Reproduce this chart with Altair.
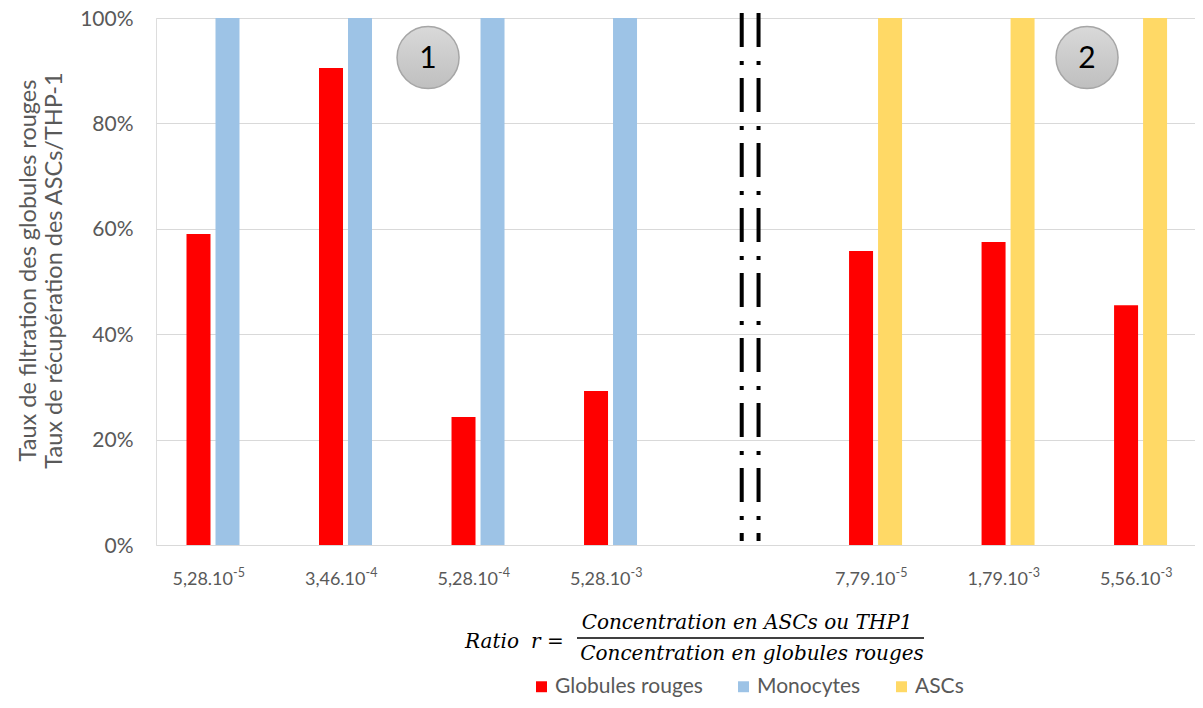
import altair as alt
import pandas as pd

# ---------------- data ----------------
categories = ["5,28.10", "3,46.10", "5,28.10", "5,28.10", "", "7,79.10", "1,79.10", "5,56.10"]
exponents = ["-5", "-4", "-4", "-3", "", "-5", "-3", "-3"]
globules_rouges = [0.590, 0.905, 0.243, 0.292, None, 0.558, 0.575, 0.455]
monocytes = [1.0, 1.0, 1.0, 1.0, None, None, None, None]
ascs = [None, None, None, None, None, 1.0, 1.0, 1.0]
series_names = ["Globules rouges", "Monocytes", "ASCs"]
series_colors = ["#ff0000", "#9dc3e6", "#ffd966"]
zone_labels = ["1", "2"]
zone_x = [1.623, 6.596]
zone_y = [0.925, 0.925]
divider_x = [3.99, 4.117]
divider_top = [1.0095, 1.0095]
divider_bottom = [0.0076, 0.0076]
y_ticks = [0, 0.2, 0.4, 0.6, 0.8, 1.0]
y_title = ["Taux de filtration des globules rouges", "Taux de récupération des ASCs/THP-1"]
numerator = "Concentration en ASCs ou THP1"
denominator = "Concentration en globules rouges"

FONT = "Lato"
GREY = "#595959"

# ---------------- tables ----------------
rows = []
for i in range(len(categories)):
    if globules_rouges[i] is not None:
        rows.append({"i": i, "serie": "Globules rouges", "v": globules_rouges[i], "side": "left"})
    if monocytes[i] is not None:
        rows.append({"i": i, "serie": "Monocytes", "v": monocytes[i], "side": "right"})
    if ascs[i] is not None:
        rows.append({"i": i, "serie": "ASCs", "v": ascs[i], "side": "right"})
bars = pd.DataFrame(rows)
labels = pd.DataFrame({"i": list(range(len(categories))), "base": categories, "exp": exponents})
labels = labels[labels["base"] != ""]
zones = pd.DataFrame({"x": zone_x, "y": zone_y, "t": zone_labels})
dividers = pd.DataFrame({"x": divider_x, "y": divider_top, "y2": divider_bottom})

x_scale = alt.Scale(domain=[-0.3924, 7.373], nice=False, zero=False)
y_scale = alt.Scale(domain=[0, 1], nice=False)
color_scale = alt.Scale(domain=series_names, range=series_colors)

y_axis = alt.Axis(
    values=y_ticks, format=".0%", labelFont=FONT, labelFontSize=21, labelColor=GREY,
    labelPadding=23, labelOffset=1, ticks=False, domain=False, gridColor="#d9d9d9", gridWidth=1,
    title=y_title, titleFont=FONT, titleFontSize=23.5, titleFontWeight="normal",
    titleColor=GREY, titleX=-116, titleY=252, titleBaseline="bottom", titleLineHeight=26,
)

base = alt.Chart(bars)

left_bars = base.transform_filter(alt.datum.side == "left").mark_bar(width=24, xOffset=-14.5).encode(
    x=alt.X("i:Q", scale=x_scale, axis=None),
    y=alt.Y("v:Q", scale=y_scale, axis=y_axis, stack=None),
    color=alt.Color("serie:N", scale=color_scale, sort=series_names,
                    legend=alt.Legend(
                        title=None, orient="none", legendX=375, legendY=658,
                        direction="horizontal", symbolType="square", symbolSize=120,
                        symbolStrokeWidth=0, labelFont=FONT, labelFontSize=21,
                        labelColor=GREY, labelOffset=3, columnPadding=30,
                    )),
)
right_bars = base.transform_filter(alt.datum.side == "right").mark_bar(width=24, xOffset=14.5).encode(
    x=alt.X("i:Q", scale=x_scale, axis=None),
    y=alt.Y("v:Q", scale=y_scale, stack=None),
    color=alt.Color("serie:N", scale=color_scale, sort=series_names),
)

lab_base = alt.Chart(labels).mark_text(
    align="right", baseline="alphabetic", dx=20, font=FONT, fontSize=18, color=GREY
).encode(x=alt.X("i:Q", scale=x_scale), y=alt.value(567), text="base:N")
lab_exp = alt.Chart(labels).mark_text(
    align="left", baseline="alphabetic", dx=20, dy=-8, font=FONT, fontSize=12.5, color=GREY
).encode(x=alt.X("i:Q", scale=x_scale), y=alt.value(567), text="exp:N")

div = alt.Chart(dividers).mark_rule(
    color="black", strokeWidth=4, strokeDash=[34, 14, 4, 13], strokeCap="butt"
).encode(x=alt.X("x:Q", scale=x_scale), y=alt.Y("y:Q", scale=y_scale), y2="y2:Q")

grad = alt.Gradient(
    gradient="linear", x1=0, x2=0, y1=0, y2=1,
    stops=[alt.GradientStop(color="#d9d9d9", offset=0), alt.GradientStop(color="#bfbfbf", offset=1)],
)
circles = alt.Chart(zones).mark_point(
    shape="circle", filled=True, fill=grad, fillOpacity=1, stroke="#a6a6a6",
    strokeWidth=1.5, strokeOpacity=1, size=3848,
).encode(x=alt.X("x:Q", scale=x_scale), y=alt.Y("y:Q", scale=y_scale))
circle_text = alt.Chart(zones).mark_text(
    font=FONT, fontSize=30, color="black", baseline="middle", align="center", dy=1
).encode(x=alt.X("x:Q", scale=x_scale), y=alt.Y("y:Q", scale=y_scale), text="t:N")

SERIF = "DejaVu Serif"
formula_df = pd.DataFrame({"num": [numerator], "den": [denominator]})
f_ratio = alt.Chart(formula_df).mark_text(
    align="left", baseline="alphabetic", font=SERIF, fontStyle="italic", fontSize=20, color="black"
).encode(x=alt.value(309), y=alt.value(630), text=alt.value("Ratio"))
f_r = alt.Chart(formula_df).mark_text(
    align="left", baseline="alphabetic", font=SERIF, fontStyle="italic", fontSize=20, color="black"
).encode(x=alt.value(375), y=alt.value(630), text=alt.value("r ="))
f_num = alt.Chart(formula_df).mark_text(
    align="center", baseline="alphabetic", font=SERIF, fontStyle="italic", fontSize=20, color="black"
).encode(x=alt.value(591), y=alt.value(611), text="num:N")
f_den = alt.Chart(formula_df).mark_text(
    align="center", baseline="alphabetic", font=SERIF, fontStyle="italic", fontSize=20, color="black"
).encode(x=alt.value(596), y=alt.value(642), text="den:N")
f_line = alt.Chart(formula_df).mark_rule(color="black", strokeWidth=1.5).encode(
    x=alt.value(421), x2=alt.value(768), y=alt.value(620)
)

chart = alt.layer(
    left_bars, right_bars, lab_base, lab_exp, div, circles, circle_text,
    f_ratio, f_r, f_num, f_den, f_line,
).properties(
    width=1039, height=527,
    autosize=alt.AutoSizeParams(type="none"),
    padding={"left": 148, "top": 10, "right": 0, "bottom": 155},
).configure_view(strokeWidth=0).configure(background="white")

chart.save("out.html", embed_options={"renderer": "svg", "actions": False})
